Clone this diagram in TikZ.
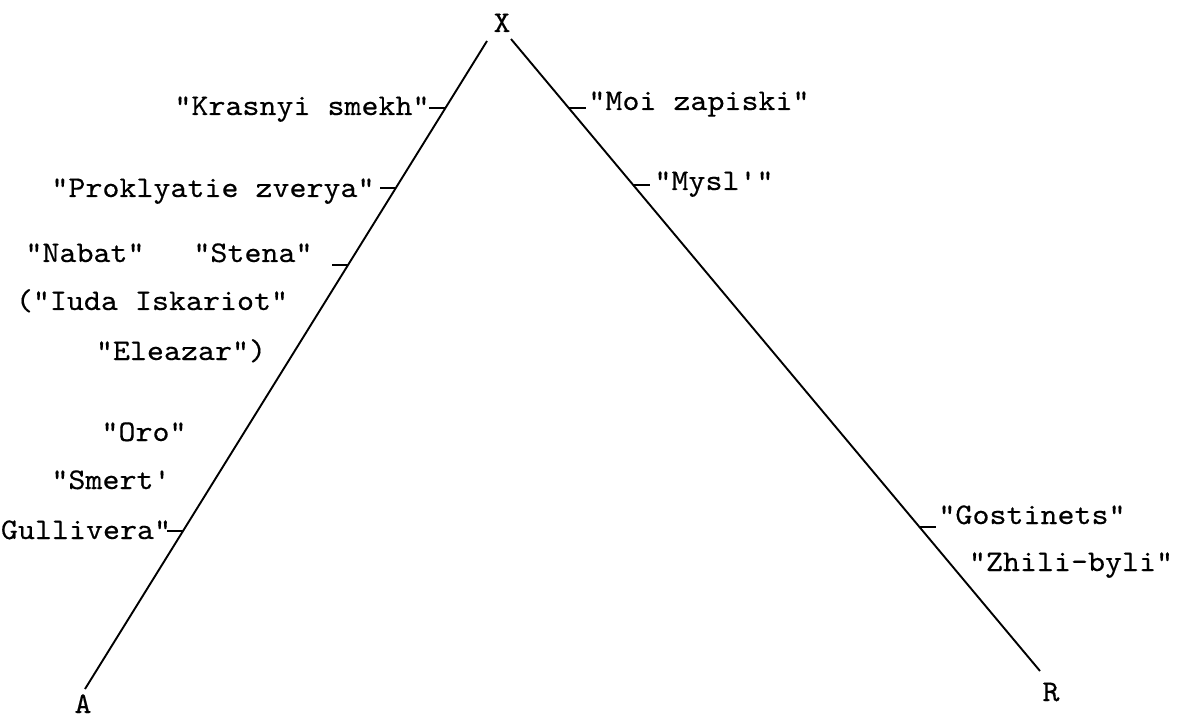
\documentclass[tikz,border=0pt]{standalone}
\usepackage{fontspec}
\setmonofont{lmmono10-regular.otf}[FakeStretch=1.08, FakeBold=0.35]
\usetikzlibrary{calc}
\tikzset{
  lbl/.style={font=\ttfamily\fontsize{15}{17}\selectfont, inner sep=0pt, anchor=base},
  edge/.style={line width=0.95pt, line cap=butt},
  tick/.style={line width=0.95pt}
}
\begin{document}
\begin{tikzpicture}[x=0.5pt, y=-0.5pt]
\useasboundingbox[fill=white] (0,0) rectangle (1180,717);
% vertices
\node[lbl] (X) at (502,32) {X};
\node[lbl] (A) at (83,713) {A};
\node[lbl] (R) at (1051,701) {R};
\coordinate (lt) at (487,41);
\coordinate (lb) at (85,689);
\coordinate (rt) at (511,39);
\coordinate (rb) at (1040,671);
\draw[edge] (lt) -- (lb);
\draw[edge] (rt) -- (rb);
% tick points on the left edge
\coordinate (k1) at ($(lt)!0.1034!(lb)$);
\coordinate (k2) at ($(lt)!0.2269!(lb)$);
\coordinate (k3) at ($(lt)!0.3457!(lb)$);
\coordinate (k4) at ($(lt)!0.7562!(lb)$);
% tick points on the right edge
\coordinate (m1) at ($(rt)!0.1092!(rb)$);
\coordinate (m2) at ($(rt)!0.2310!(rb)$);
\coordinate (m3) at ($(rt)!0.7722!(rb)$);
\foreach \c in {k1,k2,k3,k4} \draw[tick] (\c) -- ++(-16,0);
\foreach \c in {m1,m2,m3} \draw[tick] (\c) -- ++(17,0);
% left labels
\node[lbl] (krasnyi) at (302,115) {"Krasnyi smekh"};
\node[lbl] (proklyatie) at (213,197) {"Proklyatie zverya"};
\node[lbl] (nabat) at (85,262) {"Nabat"};
\node[lbl] (stena) at (253,262) {"Stena"};
\node[lbl] (iuda) at (152,310) {("Iuda Iskariot"};
\node[lbl] (eleazar) at (181,360) {"Eleazar")};
\node[lbl] (oro) at (144,441) {"Oro"};
\node[lbl] (smert) at (111,489) {"Smert'};
\node[lbl] (gulliver) at (86,539) {Gullivera"};
% right labels
\node[lbl] (moi) at (699,110) {"Moi zapiski"};
\node[lbl] (mysl) at (714,190) {"Mysl'"};
\node[lbl] (gostinets) at (1032,524) {"Gostinets"};
\node[lbl] (zhili) at (1071,571) {"Zhili-byli"};
\end{tikzpicture}
\end{document}
